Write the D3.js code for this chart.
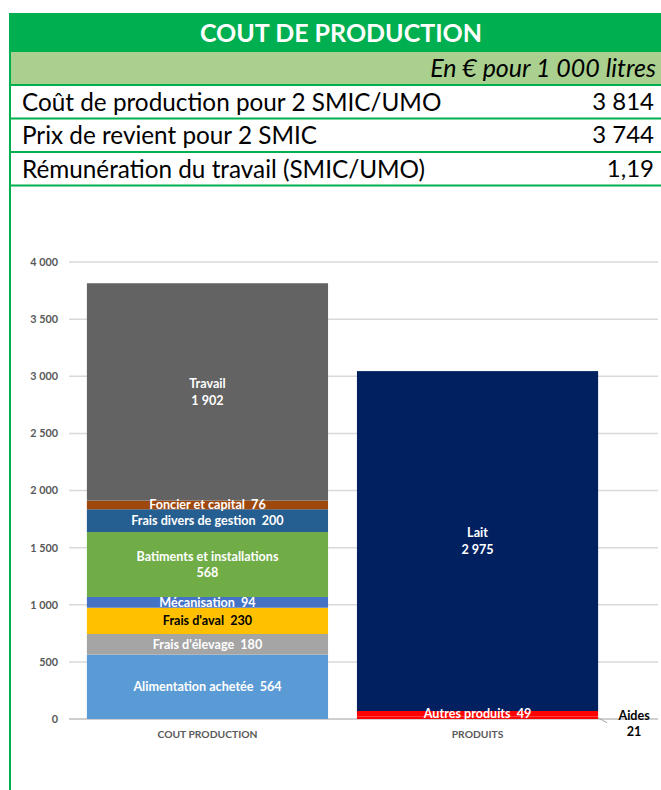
<!DOCTYPE html>
<html>
<head>
<meta charset="utf-8">
<script src="https://cdn.jsdelivr.net/npm/d3@7"></script>
<style>
  body { margin: 0; background: #ffffff; }
  svg { display: block; font-family: Lato, "Open Sans", sans-serif; }
</style>
</head>
<body>
<svg id="chart"></svg>
<script>
// header table
const tableTitle = "COUT DE PRODUCTION";
const tableUnit = "En € pour 1 000 litres";
const tableLabels = ["Coût de production pour 2 SMIC/UMO", "Prix de revient pour 2 SMIC", "Rémunération du travail (SMIC/UMO)"];
const tableValues = ["3 814", "3 744", "1,19"];

// chart data
const categories = ["COUT PRODUCTION", "PRODUITS"];
const coutKeys = ["Alimentation achetée", "Frais d'élevage", "Frais d'aval", "Mécanisation", "Batiments et installations", "Frais divers de gestion", "Foncier et capital", "Travail"];
const coutValues = [564, 180, 230, 94, 568, 200, 76, 1902];
const produitKeys = ["Aides", "Autres produits", "Lait"];
const produitValues = [21, 49, 2975];
const yTicks = [0, 500, 1000, 1500, 2000, 2500, 3000, 3500, 4000];

const colors = {
  "Alimentation achetée": "#5B9BD5",
  "Frais d'élevage": "#A5A5A5",
  "Frais d'aval": "#FFC000",
  "Mécanisation": "#4472C4",
  "Batiments et installations": "#70AD47",
  "Frais divers de gestion": "#255E91",
  "Foncier et capital": "#9E480E",
  "Travail": "#636363",
  "Aides": "#FF0000",
  "Autres produits": "#FF0000",
  "Lait": "#002060"
};
const twoLine = ["Travail", "Batiments et installations", "Lait"]; // label on two lines
const darkText = ["Frais d'aval"];

const W = 661, H = 790;
const svg = d3.select("#chart").attr("width", W).attr("height", H);

const fr = d3.formatLocale({decimal: ",", thousands: " ", grouping: [3], currency: ["", " €"]});
const fmt = fr.format(",d");

// ---- header table ----
const green = "#00B050";
svg.append("rect").attr("x", 10).attr("y", 13).attr("width", W - 10).attr("height", 39).attr("fill", green);
svg.append("rect").attr("x", 10).attr("y", 52).attr("width", W - 10).attr("height", 33).attr("fill", "#A9D08E");

svg.append("text")
  .attr("x", 341).attr("y", 33).attr("dy", "0.35em")
  .attr("text-anchor", "middle")
  .attr("fill", "#fff").attr("font-weight", "bold").attr("font-size", 25)
  .text(tableTitle);

svg.append("text")
  .attr("x", 656).attr("y", 68).attr("dy", "0.35em")
  .attr("text-anchor", "end").attr("font-style", "italic").attr("font-size", 25)
  .attr("fill", "#000")
  .text(tableUnit);

const rowY = [102, 135, 169];
const rows = svg.selectAll("g.row").data(tableLabels).enter().append("g").attr("class", "row");
rows.append("text")
  .attr("x", 22).attr("y", (d, i) => rowY[i]).attr("dy", "0.35em")
  .attr("font-size", 24.3).attr("fill", "#000")
  .text(d => d);
rows.append("text")
  .attr("x", 654).attr("y", (d, i) => rowY[i]).attr("dy", "0.35em")
  .attr("text-anchor", "end").attr("font-size", 24).attr("fill", "#000")
  .text((d, i) => tableValues[i]);

[85, 118.5, 152, 185.5].forEach(y => {
  svg.append("line").attr("x1", 10).attr("x2", W).attr("y1", y).attr("y2", y)
    .attr("stroke", green).attr("stroke-width", 2);
});
svg.append("line").attr("x1", 10).attr("x2", 10).attr("y1", 13).attr("y2", H)
  .attr("stroke", green).attr("stroke-width", 2);

// ---- chart ----
const yScale = d3.scaleLinear().domain([0, 4000]).range([719, 262]);
const xScale = d3.scaleBand().domain(categories).range([69, 658])
  .paddingInner(0.107).paddingOuter(0.144).align(0.23);

// gridlines
svg.selectAll("line.grid").data(yTicks).enter().append("line")
  .attr("class", "grid")
  .attr("x1", 69).attr("x2", 658)
  .attr("y1", d => yScale(d)).attr("y2", d => yScale(d))
  .attr("stroke", d => d === 0 ? "#BFBFBF" : "#D9D9D9")
  .attr("stroke-width", 1.5);

const yAxis = d3.axisLeft(yScale).tickValues(yTicks).tickFormat(fmt).tickSize(0).tickPadding(0);
svg.append("g")
  .attr("transform", "translate(58,0)")
  .call(yAxis)
  .call(g => g.select(".domain").remove())
  .selectAll("text")
  .attr("fill", "#595959").attr("font-weight", "bold").attr("font-size", 10.8)
  .attr("font-family", "Lato, sans-serif");

// build stacked table
const allKeys = coutKeys.concat(produitKeys);
const table = categories.map((c, i) => {
  const row = {category: c};
  allKeys.forEach(k => row[k] = 0);
  if (i === 0) coutKeys.forEach((k, j) => row[k] = coutValues[j]);
  else produitKeys.forEach((k, j) => row[k] = produitValues[j]);
  return row;
});
const series = d3.stack().keys(allKeys)(table);

const segs = [];
series.forEach(s => s.forEach(d => {
  if (d[1] - d[0] > 0) segs.push({key: s.key, category: d.data.category, y0: d[0], y1: d[1], value: d[1] - d[0]});
}));

svg.selectAll("rect.seg").data(segs).enter().append("rect")
  .attr("class", "seg")
  .attr("x", d => xScale(d.category))
  .attr("width", xScale.bandwidth())
  .attr("y", d => yScale(d.y1))
  .attr("height", d => yScale(d.y0) - yScale(d.y1))
  .attr("fill", d => colors[d.key]);

// labels inside segments
const inside = segs.filter(d => d.key !== "Aides");
const lbl = svg.selectAll("text.seglabel").data(inside).enter().append("text")
  .attr("class", "seglabel")
  .attr("x", d => xScale(d.category) + xScale.bandwidth() / 2)
  .attr("y", d => yScale((d.y0 + d.y1) / 2))
  .attr("text-anchor", "middle")
  .attr("font-size", 12.6).attr("font-weight", "bold")
  .attr("fill", d => darkText.includes(d.key) ? "#000" : "#fff");
lbl.each(function(d) {
  const t = d3.select(this);
  if (twoLine.includes(d.key)) {
    t.append("tspan").attr("x", t.attr("x")).attr("dy", "-0.3em").text(d.key);
    t.append("tspan").attr("x", t.attr("x")).attr("dy", "1.3em").text(fmt(d.value));
  } else {
    t.attr("dy", "0.35em").text(d.key + "\u00a0\u00a0" + fmt(d.value));
  }
});

// Aides: outside label with leader line
const aides = segs.find(d => d.key === "Aides");
const ax = xScale(aides.category) + xScale.bandwidth();
const ay = yScale((aides.y0 + aides.y1) / 2);
svg.append("path")
  .attr("d", `M${ax},${ay} L${ax + 9},${ay + 5}`)
  .attr("stroke", "#A6A6A6").attr("fill", "none").attr("stroke-width", 1);
const aidesText = svg.append("text")
  .attr("x", ax + 36).attr("y", ay + 6)
  .attr("text-anchor", "middle").attr("font-size", 12.6).attr("font-weight", "bold").attr("fill", "#000");
aidesText.append("tspan").attr("x", ax + 36).attr("dy", "-0.3em").text(aides.key);
aidesText.append("tspan").attr("x", ax + 36).attr("dy", "1.3em").text(fmt(aides.value));

// category axis labels
svg.selectAll("text.cat").data(categories).enter().append("text")
  .attr("class", "cat")
  .attr("x", d => xScale(d) + xScale.bandwidth() / 2)
  .attr("y", 734).attr("dy", "0.35em")
  .attr("text-anchor", "middle")
  .attr("fill", "#595959").attr("font-size", 10.3).attr("font-weight", "bold")
  .text(d => d);
</script>
</body>
</html>
